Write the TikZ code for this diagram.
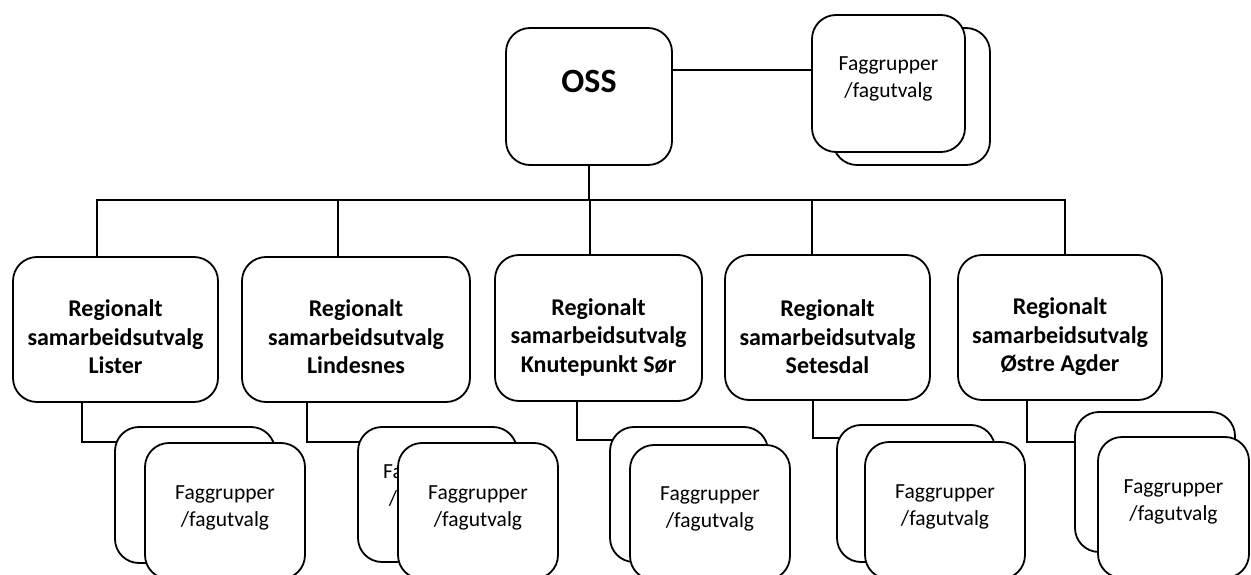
\documentclass[tikz,border=0pt]{standalone}
\usepackage{fontspec}
\setmainfont{Carlito}
\usetikzlibrary{fit}
\begin{document}
\begin{tikzpicture}[x=1pt,y=-1pt,
  box/.style={draw, line width=1.8pt, rounded corners=24pt, fill=white, inner sep=0pt},
  conn/.style={draw, line width=1.7pt},
  regtext/.style={font=\fontsize{24}{28.5}\selectfont\bfseries, align=center, inner sep=0pt},
  fagtext/.style={font=\fontsize{21.5}{27}\selectfont, align=center, inner sep=0pt},
  osstext/.style={font=\fontsize{34}{40}\selectfont\bfseries, inner sep=0pt}]
\useasboundingbox (0,0) rectangle (1251,575);
\clip (0,0) rectangle (1251,575);

% ---- top level ----
\node[box, fit={(506,28) (672,165)}] (oss) {};
\node[osstext] (osst) at (589,81) {OSS};

\node[box, fit={(833,28) (990,165)}] (topback) {};
\node[box, fit={(812,15) (965,152)}] (topfront) {};
\node[fagtext] (topt) at (888.5,79) {Faggrupper\\/fagutvalg};

\draw[conn] ([yshift=26.5pt]oss.east) coordinate (oe) -- (oe -| topfront.west);

% ---- regional boxes ----
\node[box, fit={(13,257) (218,402)}] (r1) {};
\node[box, fit={(242,257) (470,402)}] (r2) {};
\node[box, fit={(495,255) (702,401)}] (r3) {};
\node[box, fit={(725,255) (930,400)}] (r4) {};
\node[box, fit={(958,255) (1162,400)}] (r5) {};

\node[regtext] (t1) at (115.5,337) {Regionalt\\samarbeidsutvalg\\Lister};
\node[regtext] (t2) at (356,337) {Regionalt\\samarbeidsutvalg\\Lindesnes};
\node[regtext] (t3) at (598.5,337) {Regionalt\\samarbeidsutvalg\\Knutepunkt Sør};
\node[regtext] (t4) at (827.5,337) {Regionalt\\samarbeidsutvalg\\Setesdal};
\node[regtext] (t5) at (1060,337) {Regionalt\\samarbeidsutvalg\\Østre Agder};

% ---- bus ----
\coordinate (bus) at (0,200);
\draw[conn] (oss.south) -- (oss.south |- bus);
\draw[conn] ([xshift=-18.5pt]r1.north) |- ([xshift=5pt]r5.north |- bus) -- ([xshift=5pt]r5.north);
\draw[conn] ([xshift=-18pt]r2.north) -- ([xshift=-18pt]r2.north |- bus);
\draw[conn] ([xshift=-8.5pt]r3.north) -- ([xshift=-8.5pt]r3.north |- bus);
\draw[conn] ([xshift=-15.5pt]r4.north) -- ([xshift=-15.5pt]r4.north |- bus);

% ---- lower connectors ----
\coordinate (c1) at (118,442);
\coordinate (c2) at (361,442);
\coordinate (c3) at (613,440);
\coordinate (c4) at (840,438);
\coordinate (c5) at (1078,442);
\draw[conn] ([xshift=-33.5pt]r1.south) |- (c1);
\draw[conn] ([xshift=-49pt]r2.south) |- (c2);
\draw[conn] ([xshift=-21.5pt]r3.south) |- (c3);
\draw[conn] ([xshift=-14.5pt]r4.south) |- (c4);
\draw[conn] ([xshift=-33pt]r5.south) |- (c5);

% ---- lower Faggrupper pairs ----
\node[box, fit={(115,427) (275,563)}] (b1) {};
\node[box, fit={(145,443) (305,579)}] (f1) {};
\node[fagtext] (ft1) at (225,508) {Faggrupper\\/fagutvalg};

\node[box, fit={(358,427) (517,562)}] (b2) {};
\node[fagtext] (bt2) at (433,487) {Faggrupper\\/fagutvalg};
\node[box, fit={(398,443) (558,579)}] (f2) {};
\node[fagtext] (ft2) at (478,508) {Faggrupper\\/fagutvalg};

\node[box, fit={(610,427) (768,562)}] (b3) {};
\node[box, fit={(630,445) (790,580)}] (f3) {};
\node[fagtext] (ft3) at (710,509) {Faggrupper\\/fagutvalg};

\node[box, fit={(837,425) (995,562)}] (b4) {};
\node[box, fit={(865,442) (1025,579)}] (f4) {};
\node[fagtext] (ft4) at (945,507) {Faggrupper\\/fagutvalg};

\node[box, fit={(1075,412) (1235,552)}] (b5) {};
\node[box, fit={(1098,437) (1249,578)}] (f5) {};
\node[fagtext] (ft5) at (1173.5,502) {Faggrupper\\/fagutvalg};
\end{tikzpicture}
\end{document}
